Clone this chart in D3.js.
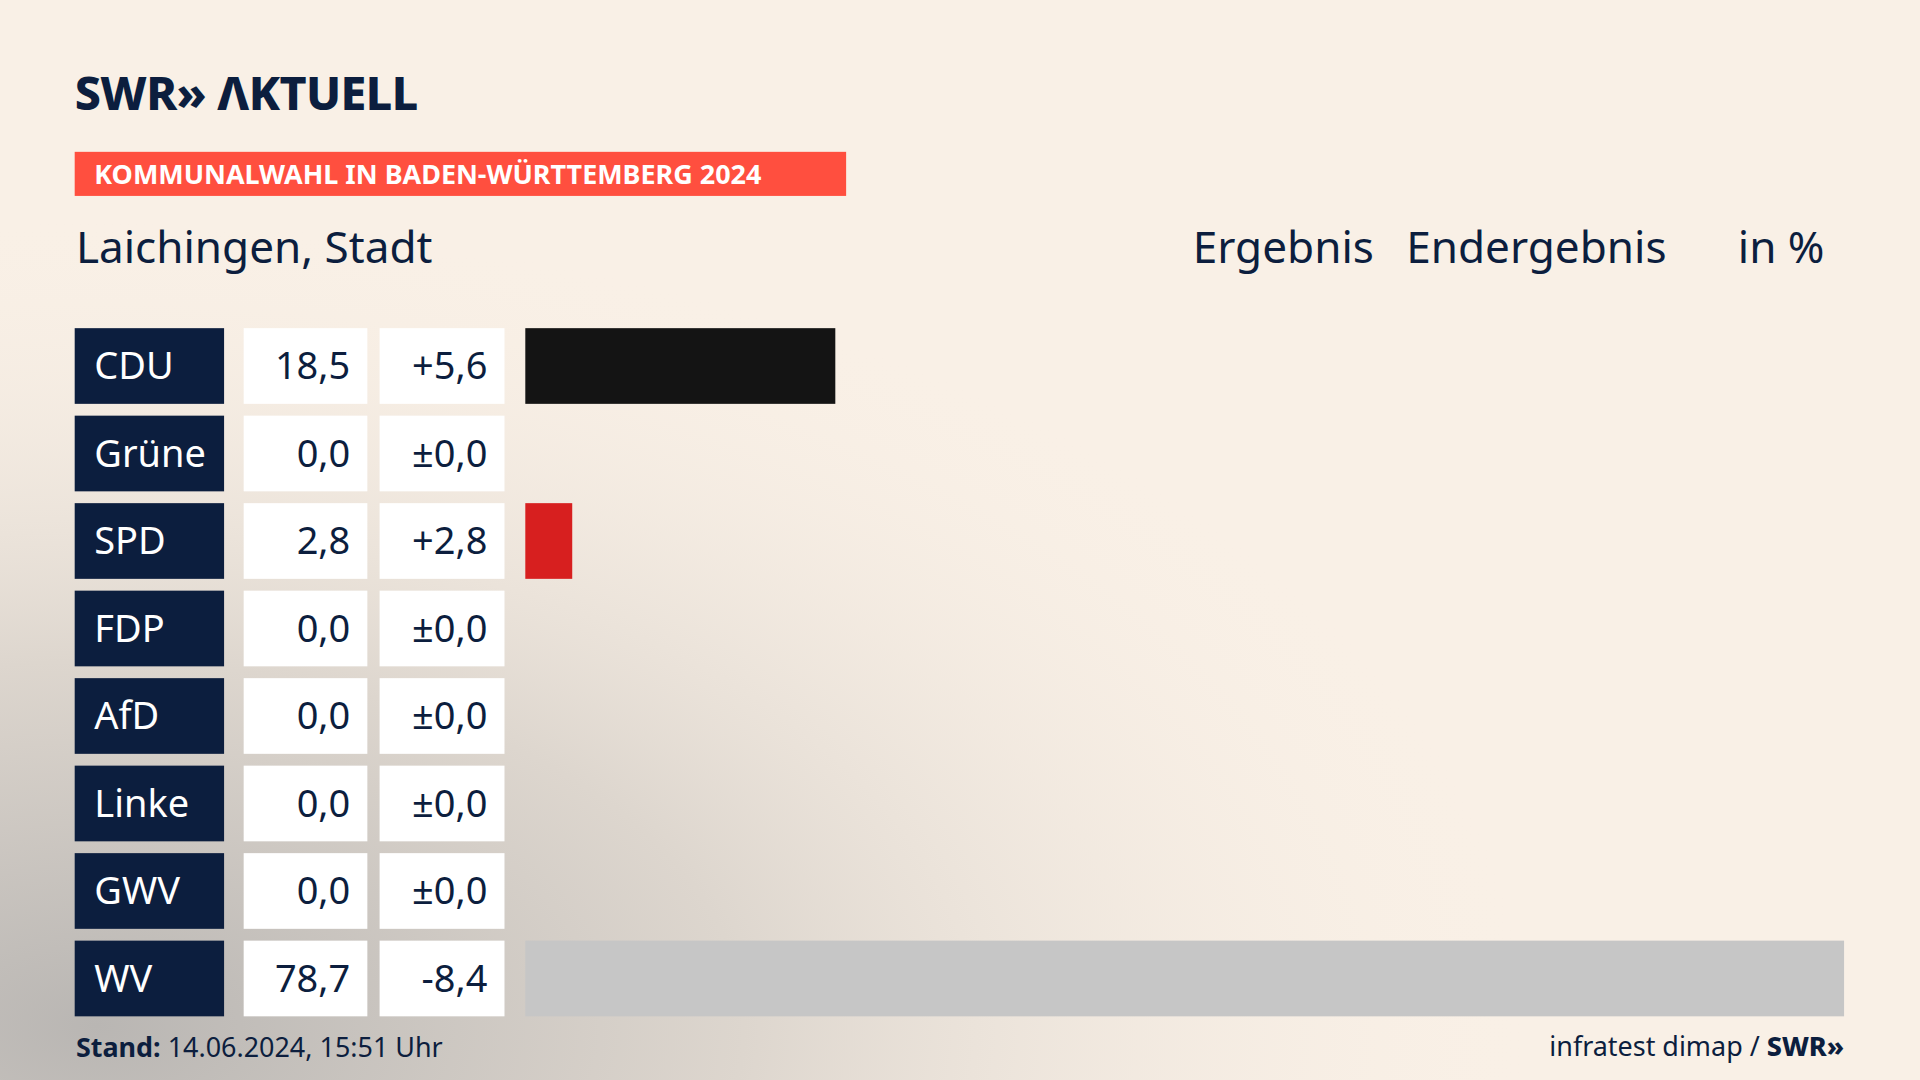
<!DOCTYPE html>
<html><head><meta charset="utf-8">
<script src="https://cdn.jsdelivr.net/npm/d3@7"></script>
<style>body{margin:0;overflow:hidden}svg{display:block}</style>
</head><body>
<div id="chart"></div>
<script>
// values
const parties = ["CDU", "Grüne", "SPD", "FDP", "AfD", "Linke", "GWV", "WV"];
const results = [18.5, 0.0, 2.8, 0.0, 0.0, 0.0, 0.0, 78.7];
const changes = ["+5,6", "±0,0", "+2,8", "±0,0", "±0,0", "±0,0", "±0,0", "-8,4"];
const barColors = ["#141414", "#1a9a3a", "#d71f1f", "#ffe000", "#0b8fd6", "#c0116a", "#888", "#c6c6c6"];

const W = 1568, H = 882;
const font = "'Noto Sans', sans-serif";
const fmt = v => d3.format(".1f")(v).replace(".", ",");

const svg = d3.select("#chart").append("svg")
    .attr("width", 1920).attr("height", 1080)
    .attr("viewBox", [0, 0, W, H]);

// background: cream with grey haze at the left/bottom
const defs = svg.append("defs");
const g1 = defs.append("radialGradient").attr("id", "haze")
    .attr("cx", 0.05).attr("cy", 0.95).attr("r", 0.75);
g1.append("stop").attr("offset", 0).attr("stop-color", "#b9b6b3");
g1.append("stop").attr("offset", 0.45).attr("stop-color", "#ddd6ce");
g1.append("stop").attr("offset", 1).attr("stop-color", "#f9f0e6").attr("stop-opacity", 0);
svg.append("rect").attr("width", W).attr("height", H).attr("fill", "#f9f0e6");
svg.append("rect").attr("width", W).attr("height", H).attr("fill", "url(#haze)");

// header
svg.append("text").attr("x", 61).attr("y", 90)
    .attr("font-family", font).attr("font-weight", 800).attr("font-size", 38)
    .attr("fill", "#0c1e3e").attr("letter-spacing", -0.5).text("SWR» ΛKTUELL");

svg.append("rect").attr("x", 61).attr("y", 124).attr("width", 630).attr("height", 36).attr("fill", "#ff4f3f");
svg.append("text").attr("x", 77).attr("y", 150)
    .attr("font-family", font).attr("font-weight", 700).attr("font-size", 22)
    .attr("fill", "#fff").text("KOMMUNALWAHL IN BADEN-WÜRTTEMBERG 2024");

svg.append("text").attr("x", 62).attr("y", 215)
    .attr("font-family", font).attr("font-size", 36).attr("fill", "#0c1e3e").text("Laichingen, Stadt");
[["Ergebnis", 1122], ["Endergebnis", 1361], ["in %", 1490]].forEach(([t, x]) =>
  svg.append("text").attr("x", x).attr("y", 215).attr("text-anchor", "end")
    .attr("font-family", font).attr("font-size", 36).attr("fill", "#0c1e3e").text(t));

// rows
const y = d3.scaleBand().domain(parties).range([268, 830]).paddingInner(0.135);
const x = d3.scaleLinear().domain([0, 78.7]).range([429, 1506]);

const row = svg.selectAll("g.row").data(parties).join("g")
    .attr("transform", d => `translate(0,${y(d)})`);
const bh = y.bandwidth();

row.append("rect").attr("x", 61).attr("width", 122).attr("height", bh).attr("fill", "#0c1e3e");
row.append("text").attr("x", 77).attr("y", bh / 2 + 11)
    .attr("font-family", font).attr("font-size", 31).attr("fill", "#fff").text(d => d);

row.append("rect").attr("x", 199).attr("width", 101).attr("height", bh).attr("fill", "#fff");
row.append("text").attr("x", 286).attr("y", bh / 2 + 11).attr("text-anchor", "end")
    .attr("font-family", font).attr("font-size", 31).attr("fill", "#0c1e3e").text((d, i) => fmt(results[i]));

row.append("rect").attr("x", 310).attr("width", 102).attr("height", bh).attr("fill", "#fff");
row.append("text").attr("x", 398).attr("y", bh / 2 + 11).attr("text-anchor", "end")
    .attr("font-family", font).attr("font-size", 31).attr("fill", "#0c1e3e").text((d, i) => changes[i]);

row.append("rect").attr("x", x(0)).attr("height", bh)
    .attr("width", (d, i) => x(results[i]) - x(0)).attr("fill", (d, i) => barColors[i]);

// footer
const foot = svg.append("text").attr("x", 62).attr("y", 863)
    .attr("font-family", font).attr("font-size", 22).attr("fill", "#0c1e3e");
foot.append("tspan").attr("font-weight", 700).text("Stand:");
foot.append("tspan").text(" 14.06.2024, 15:51 Uhr");

const src = svg.append("text").attr("x", 1506).attr("y", 862).attr("text-anchor", "end")
    .attr("font-family", font).attr("font-size", 22).attr("fill", "#0c1e3e");
src.append("tspan").text("infratest dimap / ");
src.append("tspan").attr("font-weight", 800).text("SWR»");
</script>
</body></html>
